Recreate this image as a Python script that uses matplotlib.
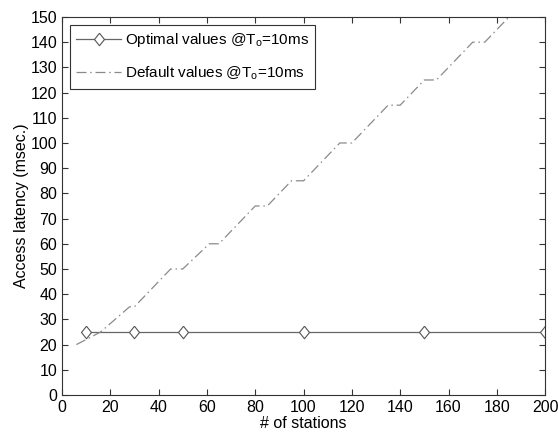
import matplotlib
matplotlib.use("Agg")
import matplotlib.pyplot as plt

opt_x = [10, 30, 50, 100, 150, 200]
opt_y = [25, 25, 25, 25, 25, 25]

def_x = [6, 16, 28, 30, 45, 50, 61, 65, 80, 85, 95, 100, 115, 120, 135, 140, 150, 155, 170, 175, 190]
def_y = [20, 25, 35, 35, 50, 50, 60, 60, 75, 75, 85, 85, 100, 100, 115, 115, 125, 125, 140, 140, 155]

xticks = list(range(0, 201, 20))
yticks = list(range(0, 151, 10))

plt.rcParams['font.family'] = ['Liberation Sans', 'DejaVu Sans']
fig = plt.figure(figsize=(5.58, 4.33), dpi=100)
ax = fig.add_axes([0.111, 0.0878, 0.866, 0.873])

diamond = [(0, 1), (0.8, 0), (0, -1), (-0.8, 0), (0, 1)]
ax.plot(opt_x, opt_y, color='#666666', lw=0.9, marker=diamond, markersize=9,
        markerfacecolor='white', markeredgecolor='#555555', markeredgewidth=0.8,
        label='Optimal values @T$_\\mathregular{o}$=10ms')
ax.plot(def_x, def_y, color='#8a8a8a', lw=0.9, linestyle=(0, (8, 3, 1.2, 3)),
        label='Default values @T$_\\mathregular{o}$=10ms')

ax.set_xlim(0, 200)
ax.set_ylim(0, 150)
ax.set_xticks(xticks)
ax.set_yticks(yticks)
ax.tick_params(direction='in', top=True, right=True, labelsize=11.5, length=4, width=0.8,
               color='#333333')
for s in ax.spines.values():
    s.set_linewidth(0.8)
    s.set_color('#333333')
ax.set_xlabel('# of stations', fontsize=11.5, labelpad=1)
ax.set_ylabel('Access latency (msec.)', fontsize=11.5, labelpad=1)

leg = ax.legend(loc='upper left', fontsize=11, fancybox=False, edgecolor='#333333',
                framealpha=1, handlelength=2.9, handletextpad=0.25, labelspacing=0.95,
                borderpad=0.45, borderaxespad=0.5)
leg.get_frame().set_linewidth(0.8)

fig.savefig('out.png', dpi=100)
